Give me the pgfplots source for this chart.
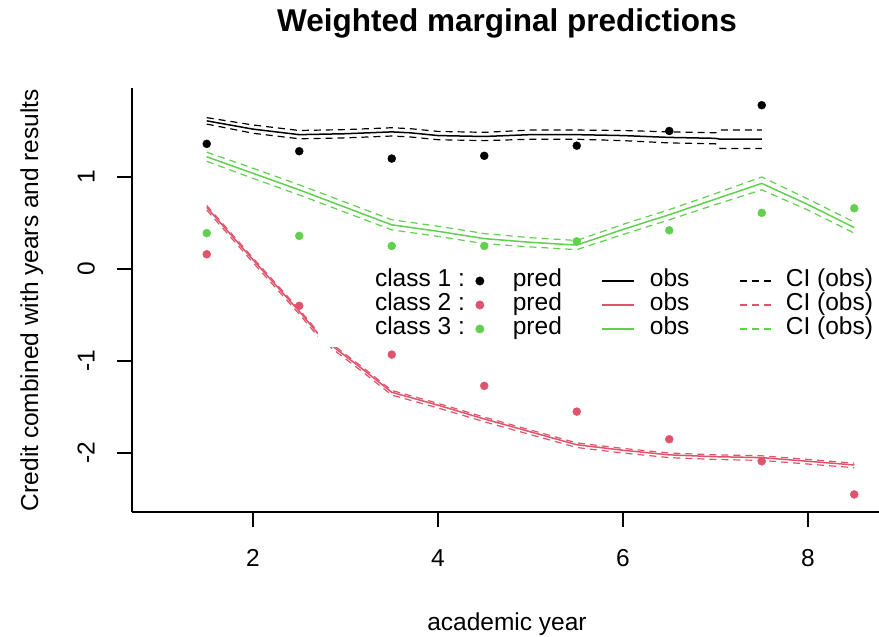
\documentclass[border=0pt]{standalone}
\usepackage{pgfplots}
\pgfplotsset{compat=1.18}
\usepackage{fontspec}
\setmainfont{Liberation Sans}
\definecolor{rred}{HTML}{DF536B}
\definecolor{rgreen}{HTML}{61D04F}
\newcommand{\basefont}{\fontsize{24.5bp}{24.5bp}\selectfont}
\newcommand{\titlefont}{\fontsize{31.5bp}{31.5bp}\selectfont\bfseries}
\pgfplotsset{
  pts/.style={only marks, mark=*, mark size=4bp, line width=0.4bp, forget plot},
  obs/.style={no marks, line width=1.5bp, forget plot},
  ci/.style={no marks, line width=1.2bp, dash pattern=on 7bp off 5bp, forget plot},
}
\begin{document}
\begin{tikzpicture}
\path[use as bounding box] (0,0) rectangle (879bp,637bp);
\begin{axis}[
  at={(132bp,125bp)}, anchor=south west,
  scale only axis, width=747bp, height=424bp,
  xmin=0.6919, xmax=8.7676, ymin=-2.641, ymax=1.967,
  axis lines=left, axis line style={-, line width=1.5bp, black},
  xtick={2,4,6,8}, xticklabels={2,4,6,8},
  ytick={-2,-1,0,1}, yticklabels={-2,-1,0,1},
  minor tick num=0,
  tick align=outside, major tick length=15bp,
  tick style={line width=1.5bp, black},
  tick label style={font=\basefont, inner sep=0pt},
  xticklabel style={anchor=base, yshift=-39.6bp},
  yticklabel style={xshift=-22.4bp, rotate=90, anchor=base},
  title={Weighted marginal predictions},
  title style={font=\titlefont, at={(0.502,1.1203)}, anchor=base, inner sep=0pt},
  xlabel={academic year},
  xlabel style={font=\basefont, at={(0.502,-0.2783)}, anchor=base, inner sep=0pt},
  ylabel={Credit combined with years and results},
  ylabel style={font=\basefont, at={(-0.1258,0.5)}, anchor=base, inner sep=0pt},
  legend columns=4,
  legend cell align=left,
  legend style={at={(0.3253,0.5731)}, anchor=north west, draw=none, fill=none,
    inner sep=0pt, outer sep=0pt, row sep=0pt, column sep=0pt, font=\basefont,
    nodes={inner sep=0pt, text height=17bp, text depth=7bp},
    /tikz/every even column/.append style={column sep=0pt}},
]
% class 1 (black)
\addplot[pts, black] coordinates {(1.5,1.36) (2.5,1.28) (3.5,1.20) (4.5,1.23) (5.5,1.34) (6.5,1.50) (7.5,1.78)};
\addplot[obs, black] coordinates {(1.5,1.61) (2.0,1.52) (2.5,1.46) (3.0,1.47) (3.5,1.49) (3.7,1.48) (4.0,1.45) (4.5,1.44) (5.0,1.46) (5.5,1.46) (6.0,1.45) (6.5,1.43) (7.0,1.42) (7.05,1.41) (7.5,1.41)};
\addplot[ci, black] coordinates {(1.5,1.645) (2.0,1.565) (2.5,1.505) (3.0,1.515) (3.5,1.535) (3.7,1.525) (4.0,1.495) (4.5,1.485) (5.0,1.51) (5.5,1.51) (6.0,1.505) (6.5,1.49) (7.0,1.48) (7.05,1.51) (7.5,1.51)};
\addplot[ci, black] coordinates {(1.5,1.575) (2.0,1.475) (2.5,1.415) (3.0,1.425) (3.5,1.445) (3.7,1.435) (4.0,1.405) (4.5,1.395) (5.0,1.41) (5.5,1.41) (6.0,1.395) (6.5,1.37) (7.0,1.36) (7.05,1.31) (7.5,1.31)};
% class 2 (red)
\addplot[pts, rred] coordinates {(1.5,0.16) (2.5,-0.40) (3.5,-0.93) (4.5,-1.27) (5.5,-1.55) (6.5,-1.85) (7.5,-2.09) (8.5,-2.45)};
\addplot[obs, rred] coordinates {(1.5,0.67) (2.0,0.10) (2.5,-0.46) (2.7,-0.70) (2.9,-0.87) (3.2,-1.10) (3.5,-1.34) (4.0,-1.48) (4.5,-1.63) (5.0,-1.77) (5.5,-1.91) (6.0,-1.97) (6.5,-2.02) (7.0,-2.04) (7.5,-2.05) (8.0,-2.09) (8.5,-2.13)};
\addplot[ci, rred] coordinates {(1.5,0.69) (2.0,0.12) (2.5,-0.44) (2.7,-0.68) (2.9,-0.85) (3.2,-1.08) (3.5,-1.32) (4.0,-1.46) (4.5,-1.61) (5.0,-1.75) (5.5,-1.89) (6.0,-1.95) (6.5,-2.00) (7.0,-2.02) (7.5,-2.03) (8.0,-2.07) (8.5,-2.11)};
\addplot[ci, rred] coordinates {(1.5,0.64) (2.0,0.07) (2.5,-0.49) (2.7,-0.73) (2.9,-0.90) (3.2,-1.13) (3.5,-1.37) (4.0,-1.51) (4.5,-1.66) (5.0,-1.80) (5.5,-1.94) (6.0,-2.00) (6.5,-2.05) (7.0,-2.07) (7.5,-2.08) (8.0,-2.12) (8.5,-2.16)};
% class 3 (green)
\addplot[pts, rgreen] coordinates {(1.5,0.39) (2.5,0.36) (3.5,0.25) (4.5,0.25) (5.5,0.30) (6.5,0.42) (7.5,0.61) (8.5,0.66)};
\addplot[obs, rgreen] coordinates {(1.5,1.22) (2.0,1.04) (2.5,0.86) (3.0,0.67) (3.5,0.48) (4.0,0.41) (4.5,0.33) (5.0,0.29) (5.5,0.26) (6.0,0.43) (6.5,0.59) (7.0,0.76) (7.5,0.93) (8.0,0.70) (8.5,0.45)};
\addplot[ci, rgreen] coordinates {(1.5,1.27) (2.0,1.095) (2.5,0.915) (3.0,0.725) (3.5,0.535) (4.0,0.465) (4.5,0.385) (5.0,0.34) (5.5,0.31) (6.0,0.485) (6.5,0.645) (7.0,0.82) (7.5,1.00) (8.0,0.76) (8.5,0.51)};
\addplot[ci, rgreen] coordinates {(1.5,1.17) (2.0,0.985) (2.5,0.805) (3.0,0.615) (3.5,0.425) (4.0,0.355) (4.5,0.275) (5.0,0.24) (5.5,0.21) (6.0,0.375) (6.5,0.535) (7.0,0.70) (7.5,0.86) (8.0,0.64) (8.5,0.39)};
% legend background (R draws it white)
\fill[white] (axis cs:2.70,-0.85) rectangle (axis cs:8.77,0.13);
% legend
\addlegendimage{legend image code/.code={}}
\addlegendentry{class 1 :}
\addlegendimage{legend image code/.code={\path[draw=none] (0,0)--(48bp,0); \fill[black] (15bp,0) circle (4.2bp);}}
\addlegendentry{pred}
\addlegendimage{legend image code/.code={\path[draw=none] (0,0)--(88bp,0); \draw[black,line width=1.5bp] (40bp,0)--(72bp,0);}}
\addlegendentry{obs}
\addlegendimage{legend image code/.code={\path[draw=none] (0,0)--(96.5bp,0); \draw[black,line width=1.2bp,dash pattern=on 7bp off 5bp] (50.5bp,0)--(82.5bp,0);}}
\addlegendentry{CI (obs)}
\addlegendimage{legend image code/.code={}}
\addlegendentry{class 2 :}
\addlegendimage{legend image code/.code={\path[draw=none] (0,0)--(48bp,0); \fill[rred] (15bp,0) circle (4.2bp);}}
\addlegendentry{pred}
\addlegendimage{legend image code/.code={\path[draw=none] (0,0)--(88bp,0); \draw[rred,line width=1.5bp] (40bp,0)--(72bp,0);}}
\addlegendentry{obs}
\addlegendimage{legend image code/.code={\path[draw=none] (0,0)--(96.5bp,0); \draw[rred,line width=1.2bp,dash pattern=on 7bp off 5bp] (50.5bp,0)--(82.5bp,0);}}
\addlegendentry{CI (obs)}
\addlegendimage{legend image code/.code={}}
\addlegendentry{class 3 :}
\addlegendimage{legend image code/.code={\path[draw=none] (0,0)--(48bp,0); \fill[rgreen] (15bp,0) circle (4.2bp);}}
\addlegendentry{pred}
\addlegendimage{legend image code/.code={\path[draw=none] (0,0)--(88bp,0); \draw[rgreen,line width=1.5bp] (40bp,0)--(72bp,0);}}
\addlegendentry{obs}
\addlegendimage{legend image code/.code={\path[draw=none] (0,0)--(96.5bp,0); \draw[rgreen,line width=1.2bp,dash pattern=on 7bp off 5bp] (50.5bp,0)--(82.5bp,0);}}
\addlegendentry{CI (obs)}
\end{axis}
\end{tikzpicture}
\end{document}
